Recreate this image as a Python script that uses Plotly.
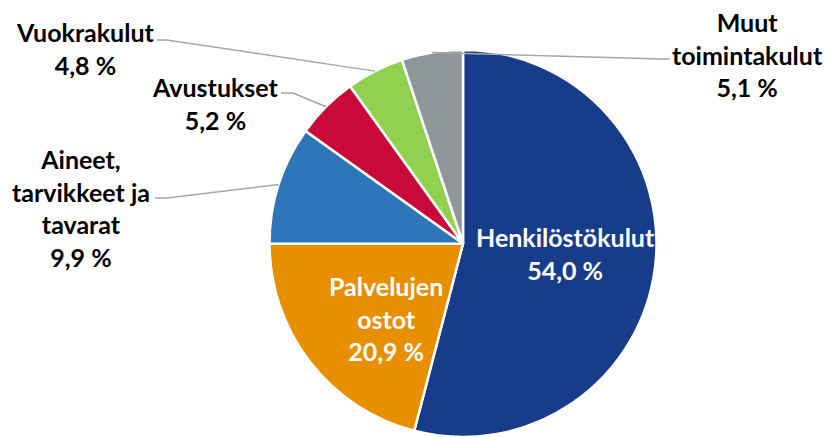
import math
import plotly.graph_objects as go

W, H = 833, 437

# ============================
# data

categories = ['Henkilöstökulut', 'Palvelujen ostot', 'Aineet, tarvikkeet ja tavarat',
              'Avustukset', 'Vuokrakulut', 'Muut toimintakulut']
shares = [54.0, 20.9, 9.9, 5.2, 4.8, 5.1]
label_text = ['Henkilöstökulut', 'Palvelujen<br>ostot', 'Aineet,<br>tarvikkeet ja<br>tavarat',
              'Avustukset', 'Vuokrakulut', 'Muut<br>toimintakulut']
colors = ['#173C8A', '#E88F00', '#2E75BA', '#C8093A', '#92D050', '#8F969A']

# ============================
# geometry (pixels)

CX, R = 463, 193.5
CY = H - R

# label block centres, pixels
label_pos = [(565, 253), (386, 318), (81, 208), (215, 103), (85, 49), (747, 54)]
inside = [True, True, False, False, False, False]
# where the leader line meets the label (stub end, stub start)
leader_pts = [None, None, ((155, 198), (167, 198)), ((281, 93), (293, 93)),
              ((157, 40), (167, 40)), ((670, 59), (662, 59))]

def px(x, y):
    return x / W, 1 - y / H

def fmt(v):
    return f'{v:.1f}'.replace('.', ',') + ' %'

font_lbl = dict(family='Lato', size=25, weight='bold')

fig = go.Figure()
fig.add_trace(go.Pie(
    labels=categories,
    values=shares,
    sort=False,
    direction='clockwise',
    rotation=0,
    textinfo='none',
    hoverinfo='label+percent',
    marker=dict(colors=colors, line=dict(color='white', width=2.5)),
    domain=dict(x=[(CX - R) / W, (CX + R) / W], y=[0, 2 * R / H]),
    showlegend=False,
))

total = sum(shares)
cum = 0
annotations = []
shapes = []
for i, v in enumerate(shares):
    mid = (cum + v / 2) / total * 2 * math.pi
    cum += v
    lx, ly = label_pos[i]
    ax, ay = px(lx, ly)
    annotations.append(dict(
        x=ax, y=ay, xref='paper', yref='paper',
        text=label_text[i] + '<br>' + fmt(v),
        showarrow=False,
        font=dict(font_lbl, color='white' if inside[i] else 'black'),
        align='center', xanchor='center', yanchor='middle',
    ))
    if leader_pts[i] is not None:
        ex = CX + R * math.sin(mid)
        ey = CY - R * math.cos(mid)
        (sx0, sy0), (sx1, sy1) = leader_pts[i]
        p = [px(sx0, sy0), px(sx1, sy1), px(ex, ey)]
        path = 'M {} {} L {} {} L {} {}'.format(p[0][0], p[0][1], p[1][0], p[1][1], p[2][0], p[2][1])
        shapes.append(dict(type='path', path=path, xref='paper', yref='paper',
                           line=dict(color='#A6A6A6', width=1.5), layer='above'))

fig.update_layout(
    width=W,
    height=H,
    margin=dict(t=0, r=0, b=0, l=0),
    paper_bgcolor='white',
    plot_bgcolor='white',
    annotations=annotations,
    shapes=shapes,
)

# drop the browser's default body margin so the figure sits at the window corner
fig.write_html('out.html', config={'displayModeBar': False},
               post_script="document.body.style.margin='0';")
